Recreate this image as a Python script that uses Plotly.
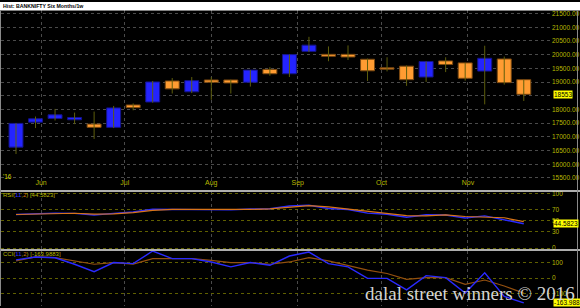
import plotly.graph_objects as go

W, H = 580, 308

# ---------------- data ----------------
weeks = ["2016-05-23", "2016-05-30", "2016-06-06", "2016-06-13", "2016-06-20", "2016-06-27",
         "2016-07-04", "2016-07-11", "2016-07-18", "2016-07-25", "2016-08-01", "2016-08-08",
         "2016-08-15", "2016-08-22", "2016-08-29", "2016-09-05", "2016-09-12", "2016-09-19",
         "2016-09-26", "2016-10-03", "2016-10-10", "2016-10-17", "2016-10-24", "2016-10-31",
         "2016-11-07", "2016-11-14", "2016-11-21"]
opens = [16626, 17538, 17671, 17624, 17466, 17347, 18165, 18273, 19040, 18644, 19076, 19076,
         18993, 19461, 19303, 20120, 20012, 20012, 19832, 19519, 19580, 19184, 19771, 19699,
         19400, 19843, 19087]
highs = [17500, 17743, 18020, 17887, 17923, 18129, 18222, 19040, 19148, 19184, 19184, 19087,
         19440, 19544, 20005, 20650, 20300, 20337, 19857, 19904, 19605, 19750, 19904, 19700,
         20326, 19930, 19090]
lows = [16374, 17322, 17599, 17466, 16925, 17322, 17970, 18247, 18582, 18597, 18355, 18582,
        18835, 19231, 19184, 20095, 19760, 19807, 19040, 19389, 18860, 19004, 19364, 19051,
        18186, 18907, 18309]
closes = [17491, 17660, 17804, 17707, 17347, 18057, 18067, 19004, 18752, 19051, 18993, 18968,
          19436, 19303, 20002, 20347, 19940, 19915, 19411, 19472, 19087, 19750, 19641, 19137,
          19868, 18979, 18553]

rsi = [61.5, 62.5, 64.0, 63.5, 60.5, 63.5, 66.0, 71.0, 70.5, 70.5, 70.0, 70.0, 71.5, 72.0,
       77.0, 78.5, 72.5, 70.5, 64.0, 62.0, 56.5, 61.0, 60.5, 55.0, 59.0, 52.0, 44.5823]
rsi_signal = [61.5, 62.0, 63.5, 63.8, 62.0, 62.5, 65.0, 69.0, 70.8, 70.5, 70.2, 70.0, 70.8,
              71.8, 74.5, 77.8, 75.5, 71.5, 67.3, 63.0, 59.3, 58.8, 60.8, 57.8, 57.0, 55.5, 48.3]
cci = [120, 139, 134, 91, 42, 102, 95, 178, 128, 128, 106, 74, 102, 84, 145, 171, 95, 74,
       -2, -2, -78, 16, 3, -99, 35, -121, -163.9883]
cci_signal = [113, 139, 134, 112, 91, 102, 92, 128, 128, 128, 117, 102, 102, 91, 106, 134,
              113, 84, 52, 30, -8, 3, 3, -41, -13, -52, -99]

price_ticks = [15500, 16000, 16500, 17000, 17500, 18000, 18500, 19000, 19500, 20000, 20500,
               21000, 21500]
rsi_ticks = [0, 30, 50, 70, 100]
cci_ticks = [-100, 0, 100]

title_text = "Hist: BANKNIFTY Six Months/1w"
year_text = "'16"
watermark = "dalal street winners \u00a9 2016"

# ---------------- styles ----------------
def py(p):
    return 1 - p / H

def pxx(p):
    return p / W

AXC = "#b8b800"
GRID = "#4a4a4a"
OLV_GRID = "#5f5f00"
UP_FILL, UP_LINE = "#2424ff", "#14148c"
DN_FILL, DN_LINE = "#ff9c32", "#7a4810"
WICK = "#5e5e0c"
FONT = "Liberation Sans, Arial, sans-serif"

fig = go.Figure()

# wicks
wx, wy = [], []
for d, lo, hi in zip(weeks, lows, highs):
    wx += [d, d, None]
    wy += [lo, hi, None]
fig.add_trace(go.Scatter(x=wx, y=wy, mode="lines", line=dict(color=WICK, width=1),
                         xaxis="x", yaxis="y", hoverinfo="skip"))

# bodies
bases = [min(o, c) for o, c in zip(opens, closes)]
heights = [max(abs(c - o), 1) for o, c in zip(opens, closes)]
fills = [UP_FILL if c >= o else DN_FILL for o, c in zip(opens, closes)]
edges = [UP_LINE if c >= o else DN_LINE for o, c in zip(opens, closes)]
fig.add_trace(go.Bar(x=weeks, y=heights, base=bases, width=5 * 86400000,
                     marker=dict(color=fills, line=dict(color=edges, width=1)),
                     xaxis="x", yaxis="y", hoverinfo="skip"))

# RSI
fig.add_trace(go.Scatter(x=weeks, y=rsi, mode="lines", line=dict(color="#2a2aff", width=1.4),
                         xaxis="x2", yaxis="y2"))
fig.add_trace(go.Scatter(x=weeks, y=rsi_signal, mode="lines", line=dict(color="#d87418", width=1.2),
                         xaxis="x2", yaxis="y2"))
# CCI
fig.add_trace(go.Scatter(x=weeks, y=cci_signal, mode="lines", line=dict(color="#94500f", width=1.2),
                         xaxis="x3", yaxis="y3"))
fig.add_trace(go.Scatter(x=weeks, y=cci, mode="lines", line=dict(color="#2a2aff", width=1.4),
                         xaxis="x3", yaxis="y3"))

xrange = ["2016-05-17 15:00", "2016-11-30 18:14"]
xdom = [pxx(1), pxx(551)]
xcommon = dict(type="date", domain=xdom, range=xrange, dtick="M1", tick0="2016-06-01",
               showgrid=True, gridcolor=GRID, griddash="dot", gridwidth=1, zeroline=False,
               showline=False, ticks="", fixedrange=True)

ycommon = dict(side="right", showgrid=True, griddash="dot", gridwidth=1, zeroline=False,
               showline=False, ticks="", tickfont=dict(color=AXC, size=6.5, family=FONT))

# the last-price box hides the tick label nearest to it, as in the reference
price_text = ["" if abs(t - closes[-1]) < 250 else f"{t:.2f}" for t in price_ticks]

fig.update_layout(
    width=W, height=H, margin=dict(l=0, r=0, t=0, b=0),
    paper_bgcolor="black", plot_bgcolor="black", showlegend=False,
    xaxis=dict(**xcommon, anchor="y", tickformat="%b", ticklabelposition="inside",
               tickfont=dict(color=AXC, size=7, family=FONT)),
    xaxis2=dict(**xcommon, anchor="y2", matches="x", showticklabels=False),
    xaxis3=dict(**xcommon, anchor="y3", matches="x", showticklabels=False),
    yaxis=dict(**ycommon, anchor="x", domain=[py(190), py(8.5)], range=[15079, 21615],
               tickvals=price_ticks, ticktext=price_text, gridcolor=GRID),
    yaxis2=dict(**ycommon, anchor="x2", domain=[py(250.5), py(192.5)], range=[-2.2, 102.7],
                tickvals=rsi_ticks, gridcolor=OLV_GRID),
    yaxis3=dict(**ycommon, anchor="x3", domain=[0, py(252)], range=[-184, 180],
                tickvals=cci_ticks, gridcolor=OLV_GRID),
)

shapes = [
    dict(type="rect", xref="paper", yref="paper", x0=0, x1=1, y0=py(8.5), y1=1,
         fillcolor="white", line=dict(width=0), layer="above"),
    dict(type="line", xref="paper", yref="paper", x0=0, x1=1, y0=py(191.5), y1=py(191.5),
         line=dict(color="#e8e8e8", width=1.5), layer="above"),
    dict(type="line", xref="paper", yref="paper", x0=0, x1=1, y0=py(251.3), y1=py(251.3),
         line=dict(color="#e8e8e8", width=1.5), layer="above"),
    dict(type="line", xref="paper", yref="paper", x0=pxx(0.5), x1=pxx(0.5), y0=0, y1=py(8.5),
         line=dict(color="#8a8a8a", width=1), layer="above"),
    dict(type="line", xref="paper", yref="paper", x0=pxx(577.5), x1=pxx(577.5), y0=0, y1=py(8.5),
         line=dict(color="#8a8a8a", width=1), layer="above"),
]
fig.update_layout(shapes=shapes)

def box(yval, yref, text):
    return dict(x=pxx(553), xref="paper", xanchor="left", y=yval, yref=yref, yanchor="middle",
                text=text, showarrow=False, bgcolor="#ffff00", borderpad=0,
                font=dict(color="black", size=6.5, family=FONT))

blue_span = "<span style='color:#3030ff'>11</span>"
org_span = "<span style='color:#d07010'>2</span>"
annos = [
    dict(x=pxx(1), xref="paper", xanchor="left", y=py(4.3), yref="paper", yanchor="middle",
         text="<b>" + title_text + "</b>", showarrow=False,
         font=dict(color="black", size=5.2, family=FONT)),
    dict(x=pxx(0.5), xref="paper", xanchor="left", y=py(176.5), yref="paper", yanchor="middle",
         text=year_text, showarrow=False, font=dict(color="#d8d800", size=6.5, family=FONT)),
    dict(x=pxx(1), xref="paper", xanchor="left", y=py(196), yref="paper", yanchor="middle",
         text="RSI(" + blue_span + "," + org_span + ") [" + f"{rsi[-1]:.4f}" + "]",
         showarrow=False, font=dict(color=AXC, size=6, family=FONT)),
    dict(x=pxx(1), xref="paper", xanchor="left", y=py(255.5), yref="paper", yanchor="middle",
         text="CCI(" + blue_span + "," + org_span + ") [" + f"{cci[-1]:.4f}" + "]",
         showarrow=False, font=dict(color=AXC, size=6, family=FONT)),
    box(closes[-1], "y", f"{closes[-1]}"),
    box(rsi[-1], "y2", f"{rsi[-1]:.4f}"),
    box(cci[-1], "y3", f"{cci[-1]:.4f}"),
    dict(x=pxx(577), xref="paper", xanchor="right", y=py(295), yref="paper", yanchor="middle",
         text=watermark, showarrow=False,
         font=dict(color="#d4d4d4", size=19, family="Liberation Serif, Times New Roman, serif")),
]
fig.update_layout(annotations=annos)

fig.write_html("out.html")
